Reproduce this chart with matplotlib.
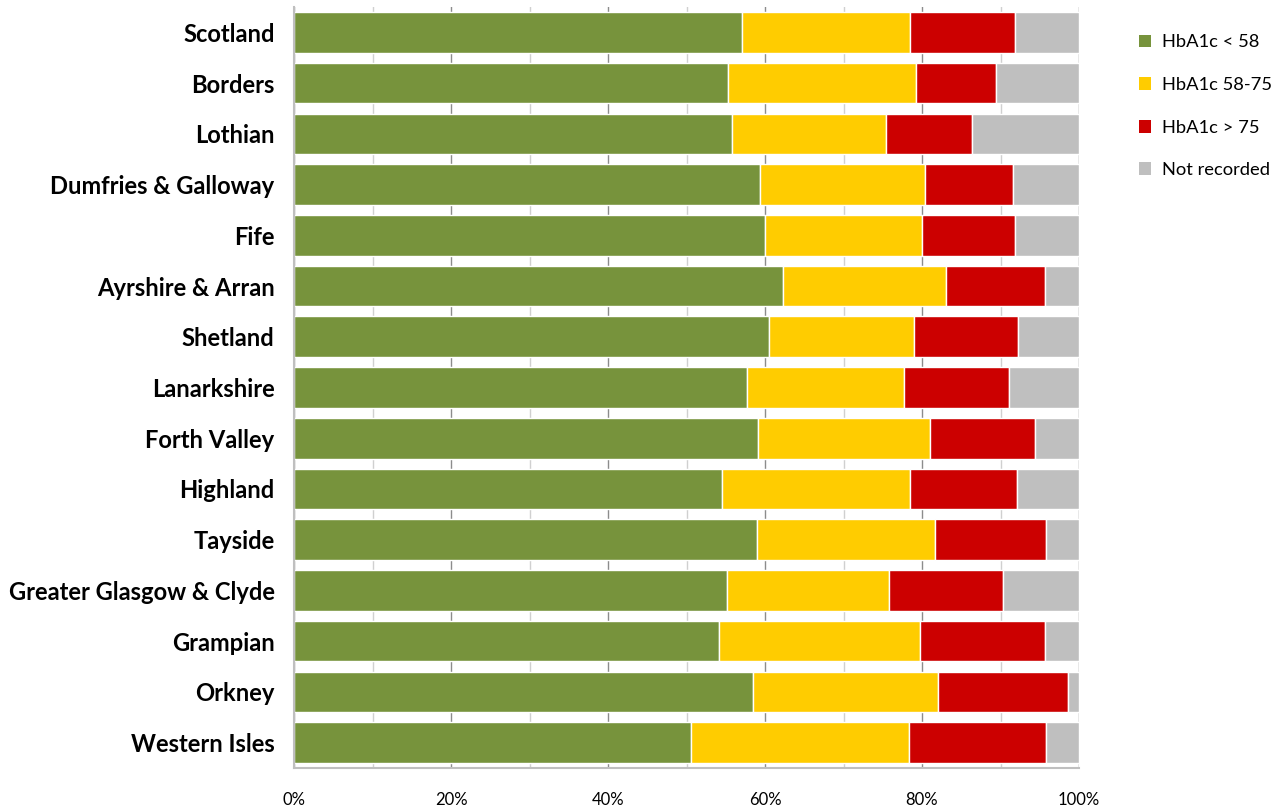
import matplotlib
matplotlib.use("Agg")
import matplotlib.pyplot as plt
from matplotlib.ticker import MultipleLocator, FuncFormatter
from matplotlib.patches import Patch
import numpy as np

regions = ["Scotland", "Borders", "Lothian", "Dumfries & Galloway", "Fife",
           "Ayrshire & Arran", "Shetland", "Lanarkshire", "Forth Valley",
           "Highland", "Tayside", "Greater Glasgow & Clyde", "Grampian",
           "Orkney", "Western Isles"]
lt58 = [57.1, 55.3, 55.8, 59.4, 60.0, 62.3, 60.5, 57.7, 59.1, 54.5, 59.0, 55.2, 54.1, 58.5, 50.6]
b58_75 = [21.4, 23.9, 19.6, 21.0, 20.0, 20.8, 18.5, 20.0, 21.9, 24.0, 22.7, 20.6, 25.6, 23.5, 27.7]
gt75 = [13.3, 10.2, 11.0, 11.2, 11.8, 12.6, 13.2, 13.4, 13.4, 13.6, 14.1, 14.5, 16.0, 16.6, 17.5]
series_names = ["HbA1c < 58", "HbA1c 58-75", "HbA1c > 75", "Not recorded"]
colors = ["#77933C", "#FFCC00", "#CC0000", "#BFBFBF"]

lt58 = np.array(lt58); b58_75 = np.array(b58_75); gt75 = np.array(gt75)
notrec = 100 - lt58 - b58_75 - gt75
data = [lt58, b58_75, gt75, notrec]

plt.rcParams['font.family'] = ['Lato', 'DejaVu Sans']
fig = plt.figure(figsize=(12.81, 8.10), dpi=100)
ax = fig.add_axes([294/1281, 1-768/810, (1079-294)/1281, (768-7)/810])

y = np.arange(len(regions))
left = np.zeros(len(regions))
for vals, c, name in zip(data, colors, series_names):
    ax.barh(y, vals, left=left, height=0.8, color=c, edgecolor="white", linewidth=1, label=name, zorder=3)
    left = left + vals

ax.set_xlim(0, 100)
ax.set_ylim(len(regions)-0.5, -0.5)
ax.set_yticks(y)
ax.set_yticklabels(regions, fontsize=17.1, fontweight="bold")
ax.tick_params(axis='y', length=0, pad=14)
ax.xaxis.set_major_locator(MultipleLocator(20))
ax.xaxis.set_minor_locator(MultipleLocator(10))
ax.xaxis.set_major_formatter(FuncFormatter(lambda v, p: f"{int(v)}%"))
ax.tick_params(axis='x', which='both', length=0, pad=17, labelsize=12)
ax.grid(axis='x', which='major', color="#8C8C8C", linewidth=1, zorder=0)
ax.grid(axis='x', which='minor', color="#D0D0D0", linewidth=1, zorder=0)
for s in ["top", "right"]:
    ax.spines[s].set_visible(False)
for s in ["left", "bottom"]:
    ax.spines[s].set_color("#BFBFBF")
    ax.spines[s].set_linewidth(1.5)
    ax.spines[s].set_zorder(4)

handles = [Patch(facecolor=c, edgecolor='none', label=n) for c, n in zip(colors, series_names)]
fig.legend(handles=handles, loc="upper left", bbox_to_anchor=(1122/1281, 1-18/810),
           frameon=False, fontsize=13.2, handlelength=0.7, handleheight=0.7,
           handletextpad=0.6, labelspacing=1.45)

fig.savefig("out.png", dpi=100)
